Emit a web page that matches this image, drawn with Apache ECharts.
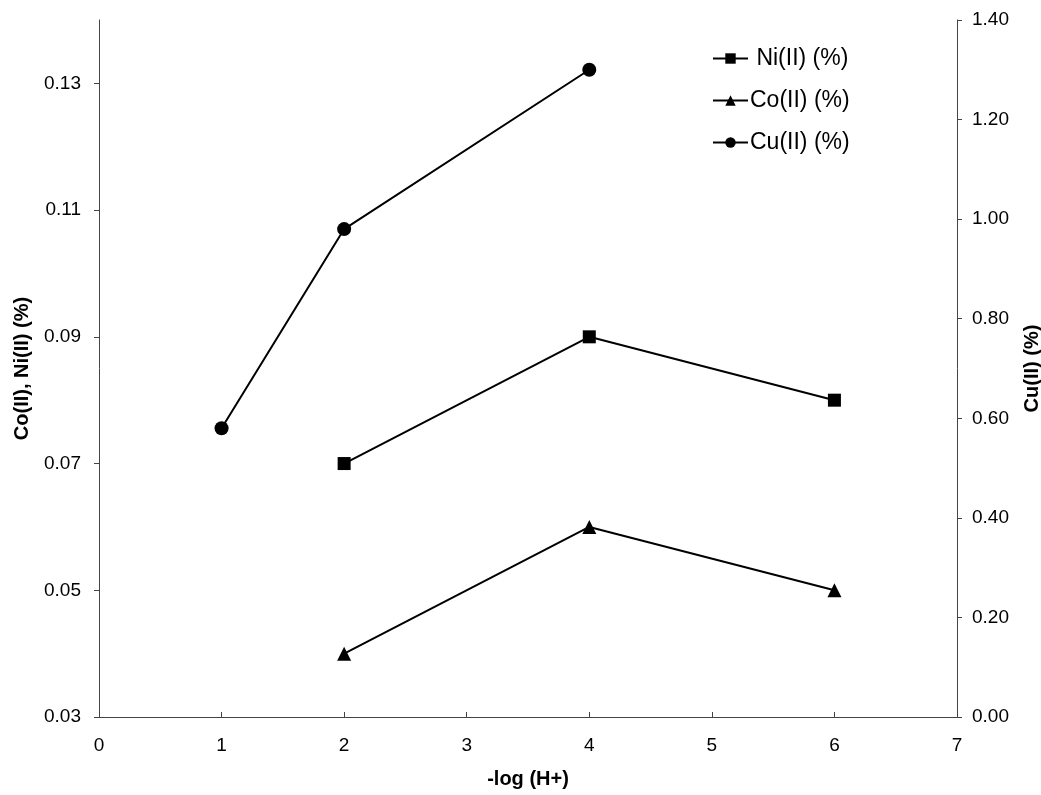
<!DOCTYPE html>
<html>
<head>
<meta charset="utf-8">
<script src="https://cdn.jsdelivr.net/npm/echarts@6/dist/echarts.min.js"></script>
<style>
  html, body { margin: 0; padding: 0; background: #fff; }
  #chart { width: 1041px; height: 795px; }
</style>
</head>
<body>
<div id="chart"></div>
<script>
// -log(H+) values
const niX = [2, 4, 6];
const niVals = [0.07, 0.09, 0.08];
const coX = [2, 4, 6];
const coVals = [0.04, 0.06, 0.05];
const cuX = [1, 2, 4];
const cuVals = [0.58, 0.98, 1.30];

const leftTicks = [0.03, 0.05, 0.07, 0.09, 0.11, 0.13];
const rightTicks = [0, 0.2, 0.4, 0.6, 0.8, 1.0, 1.2, 1.4];

const pairs = (xs, ys) => xs.map((x, i) => [x, ys[i]]);

const font = 'Liberation Sans, Arial, sans-serif';
const axisColor = '#444';

const chart = echarts.init(document.getElementById('chart'));

chart.setOption({
  animation: false,
  backgroundColor: '#fff',
  grid: { left: 99, right: 84, top: 20, bottom: 78, outerBoundsMode: 'none', containLabel: false },
  legend: {
    orient: 'vertical',
    left: 707,
    top: 42,
    itemWidth: 35,
    itemHeight: 13,
    itemGap: 19,
    textStyle: { fontFamily: font, fontSize: 23, color: '#000', padding: [0, 0, 0, -3] },
    formatter: name => name.startsWith('Ni') ? ' ' + name : name,
    data: ['Ni(II) (%)', 'Co(II) (%)', 'Cu(II) (%)']
  },
  xAxis: {
    type: 'value',
    min: 0,
    max: 7,
    interval: 1,
    name: '-log (H+)',
    nameLocation: 'middle',
    nameGap: 52,
    nameTextStyle: { fontFamily: font, fontSize: 20, fontWeight: 'bold', color: '#000' },
    splitLine: { show: false },
    axisLine: { lineStyle: { color: axisColor, width: 1 } },
    axisTick: { inside: true, length: 5, lineStyle: { color: axisColor } },
    axisLabel: { fontFamily: font, fontSize: 19, color: '#000', margin: 19 }
  },
  yAxis: [
    {
      type: 'value',
      min: 0.03,
      max: 0.14,
      position: 'left',
      name: 'Co(II), Ni(II) (%)',
      nameLocation: 'middle',
      nameRotate: 90,
      nameGap: 67,
      nameTextStyle: { fontFamily: font, fontSize: 20, fontWeight: 'bold', color: '#000' },
      splitLine: { show: false },
      axisLine: { show: true, lineStyle: { color: axisColor, width: 1 } },
      axisTick: { show: true, length: 5, customValues: leftTicks, lineStyle: { color: axisColor } },
      axisLabel: {
        fontFamily: font, fontSize: 19, color: '#000', margin: 18,
        customValues: leftTicks,
        formatter: v => v.toFixed(2)
      }
    },
    {
      type: 'value',
      min: 0,
      max: 1.4,
      interval: 0.2,
      position: 'right',
      name: 'Cu(II) (%)',
      nameLocation: 'middle',
      nameRotate: 90,
      nameGap: 65,
      nameTextStyle: { fontFamily: font, fontSize: 20, fontWeight: 'bold', color: '#000' },
      splitLine: { show: false },
      axisLine: { show: true, lineStyle: { color: axisColor, width: 1 } },
      axisTick: { show: true, length: 5, customValues: rightTicks, lineStyle: { color: axisColor } },
      axisLabel: {
        fontFamily: font, fontSize: 19, color: '#000', margin: 15,
        customValues: rightTicks,
        formatter: v => v.toFixed(2)
      }
    }
  ],
  series: [
    {
      name: 'Ni(II) (%)',
      type: 'line',
      yAxisIndex: 0,
      symbol: 'rect',
      symbolSize: 13,
      itemStyle: { color: '#000' },
      lineStyle: { color: '#000', width: 2 },
      data: pairs(niX, niVals)
    },
    {
      name: 'Co(II) (%)',
      type: 'line',
      yAxisIndex: 0,
      symbol: 'triangle',
      symbolSize: 14,
      itemStyle: { color: '#000' },
      lineStyle: { color: '#000', width: 2 },
      data: pairs(coX, coVals)
    },
    {
      name: 'Cu(II) (%)',
      type: 'line',
      yAxisIndex: 1,
      symbol: 'circle',
      symbolSize: 14,
      itemStyle: { color: '#000' },
      lineStyle: { color: '#000', width: 2 },
      data: pairs(cuX, cuVals)
    }
  ]
});
</script>
</body>
</html>
